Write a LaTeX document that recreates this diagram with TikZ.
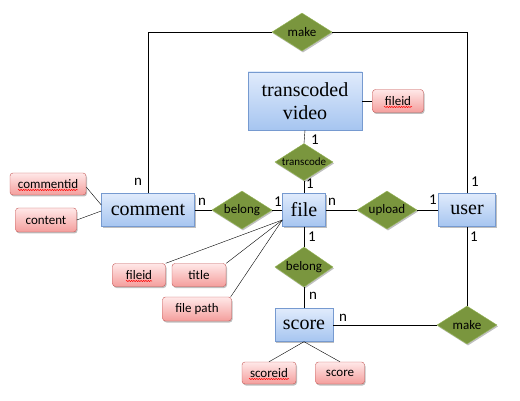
\documentclass[tikz,border=0pt]{standalone}
\usepackage{fontspec}
\setmainfont{Liberation Serif}
\newfontfamily\calib{Carlito}
\usetikzlibrary{shapes.geometric,decorations.pathmorphing,shadows}

\definecolor{entline}{RGB}{118,154,208}
\definecolor{enttop}{RGB}{224,235,252}
\definecolor{entbot}{RGB}{166,197,240}
\definecolor{attline}{RGB}{196,88,86}
\definecolor{atttop}{RGB}{255,232,232}
\definecolor{attbot}{RGB}{244,158,156}
\definecolor{relfill}{RGB}{122,150,62}
\definecolor{relline}{RGB}{150,182,88}

\tikzset{
  softshadow/.style={drop shadow={shadow xshift=1pt, shadow yshift=-1.5pt,
    fill=black, opacity=0.25}},
  entity/.style={draw=entline, top color=enttop, bottom color=entbot,
    softshadow, inner sep=0pt, align=center, font=\fontsize{20}{23}\selectfont},
  attrib/.style={draw=attline, top color=atttop, bottom color=attbot,
    softshadow, rounded corners=3pt, inner sep=0pt, minimum height=23pt,
    font=\calib\fontsize{13}{14}\selectfont},
  relation/.style={diamond, draw=relline, fill=relfill, softshadow, inner sep=0pt,
    minimum width=60pt, minimum height=38pt, shape aspect=1.6,
    font=\calib\fontsize{13}{14}\selectfont},
  card/.style={font=\calib\fontsize{15}{16}\selectfont, inner sep=0pt},
  spellmark/.style={draw=red, line width=0.5pt,
    decorate, decoration={snake, amplitude=0.6pt, segment length=2.4pt}}
}

\begin{document}
\begin{tikzpicture}[x=1pt, y=-1pt]
  \useasboundingbox (0,0) rectangle (520,401);

  % entities
  \node[entity, minimum width=114pt, minimum height=58pt] (tv) at (305,101) {transcoded\\video};
  \node[entity, minimum width=93pt, minimum height=33pt] (comment) at (148,210) {comment};
  \node[entity, minimum width=43pt, minimum height=33pt] (file) at (304,210) {file};
  \node[entity, minimum width=57pt, minimum height=33pt] (user) at (467,210) {user};
  \node[entity, minimum width=58pt, minimum height=33pt] (score) at (304,325) {score};

  % relations
  \node[relation] (maketop) at (302,32) {make};
  \node[relation, minimum width=58pt, minimum height=37pt,
    font=\calib\fontsize{11}{12}\selectfont] (transcode) at (304,162) {transcode};
  \node[relation] (belongl) at (242,210) {belong};
  \node[relation] (upload) at (387,210) {upload};
  \node[relation, minimum width=58pt, minimum height=40pt] (belongd) at (304,267) {belong};
  \node[relation] (makelow) at (467,325) {make};

  % attributes
  \node[attrib, minimum width=51pt] (tvid) at (398,101) {fileid};
  \node[attrib, minimum width=76pt, minimum height=22pt] (commentid) at (48,184) {commentid};
  \node[attrib, minimum width=61pt, minimum height=24pt] (content) at (46,220) {content};
  \node[attrib, minimum width=53pt] (fileid) at (139,275) {fileid};
  \node[attrib, minimum width=54pt] (title) at (199,275) {title};
  \node[attrib, minimum width=69pt, minimum height=24pt] (filepath) at (197,309) {file path};
  \node[attrib, minimum width=54pt, minimum height=22pt] (scoreid) at (269,373) {scoreid};
  \node[attrib, minimum width=49pt, minimum height=22pt] (scoreval) at (340,373) {score};

  % spelling marks
  \draw[spellmark] ([xshift=-14pt,yshift=-6pt]tvid.center) -- ([xshift=14pt,yshift=-6pt]tvid.center);
  \draw[spellmark] ([xshift=-30pt,yshift=-6pt]commentid.center) -- ([xshift=30pt,yshift=-6pt]commentid.center);
  \draw[spellmark] ([xshift=-13pt,yshift=-6pt]fileid.center) -- ([xshift=13pt,yshift=-6pt]fileid.center);
  \draw[spellmark] ([xshift=-20pt,yshift=-6pt]scoreid.center) -- ([xshift=20pt,yshift=-6pt]scoreid.center);

  % connectors
  \draw (comment.north) |- (maketop.west);
  \draw (user.north) |- (maketop.east);
  \draw (tv.east) -- (tvid.west);
  \draw (tv.south) -- (transcode.north);
  \draw (transcode.south) -- (file.north);
  \draw (comment.east) -- (belongl.west);
  \draw (belongl.east) -- (file.west);
  \draw (file.east) -- (upload.west);
  \draw (upload.east) -- (user.west);
  \draw (file.south) -- (belongd.north);
  \draw (belongd.south) -- (score.north);
  \draw (score.east) -- (makelow.west);
  \draw (makelow.north) -- (user.south);
  \draw ([yshift=-3pt]commentid.east) -- ([yshift=5pt]comment.west);
  \draw (content.east) -- ([yshift=-1pt]comment.west);
  \draw (fileid.north east) -- ([yshift=-10pt]file.west);
  \draw (title.north east) -- ([yshift=-10pt]file.west);
  \draw ([xshift=-1pt]filepath.north east) -- ([yshift=-10pt]file.west);
  \draw (score.south) -- (scoreid.north);
  \draw (score.south) -- (scoreval.north);

  % cardinalities
  \node[card] (c1) at (138,182) {n};
  \node[card] (c2) at (475,182) {1};
  \node[card] (c3) at (315,140) {1};
  \node[card] (c4) at (310,184) {1};
  \node[card] (c5) at (202,202) {n};
  \node[card] (c6) at (278,202) {1};
  \node[card] (c7) at (332,202) {n};
  \node[card] (c8) at (433,200) {1};
  \node[card] (c9) at (474,237) {1};
  \node[card] (c10) at (312,237) {1};
  \node[card] (c11) at (313,296) {n};
  \node[card] (c12) at (343,318) {n};
\end{tikzpicture}
\end{document}
